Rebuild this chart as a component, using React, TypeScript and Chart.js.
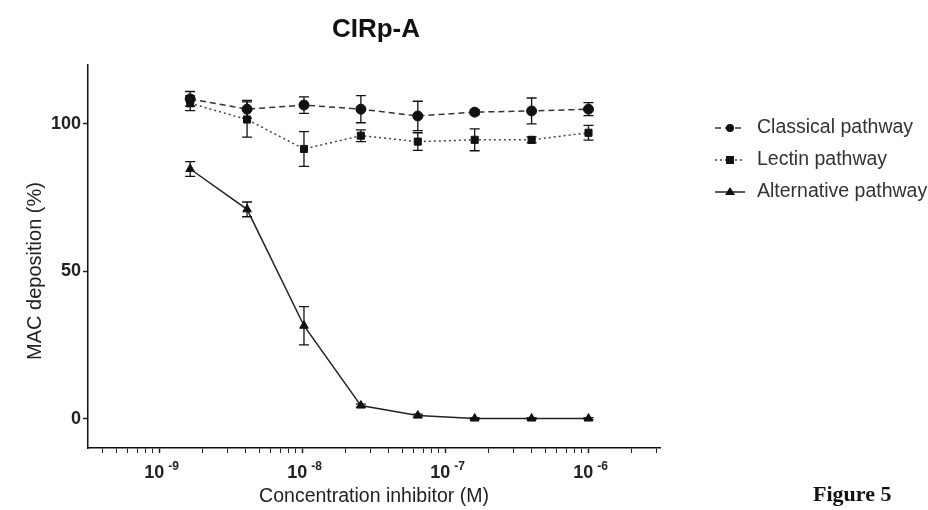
import React, { useEffect, useRef } from "react";
import { Chart, registerables } from "chart.js";
Chart.register(...registerables);

const concentrations = [1.6384e-9, 4.096e-9, 1.024e-8, 2.56e-8, 6.4e-8, 1.6e-7, 4e-7, 1e-6];
const classical = [108.5, 105, 106.4, 105, 102.7, 104, 104.4, 105];
const classicalErr = [2.5, 3, 2.8, 4.6, 5, 0.8, 4.4, 2.2];
const lectin = [107, 101.5, 91.5, 96, 94, 94.6, 94.6, 97];
const lectinErr = [2.5, 6, 5.9, 2, 3, 3.7, 1, 2.5];
const alternative = [84.7, 71, 31.5, 4.4, 1, 0, 0, 0];
const alternativeErr = [2.5, 2.5, 6.5, 0.5, 0.5, 0.3, 0.3, 0.3];

const seriesNames = ["Classical pathway", "Lectin pathway", "Alternative pathway"];
const decadeExponents = [-9, -8, -7, -6];
const yTicks = [0, 50, 100];
const titleText = "CIRp-A";
const xTitle = "Concentration inhibitor (M)";
const yTitle = "MAC deposition (%)";
const figureLabel = "Figure 5";

const FONT = "'Liberation Sans', Arial, sans-serif";

export default function App() {
  const ref = useRef<HTMLCanvasElement>(null);
  useEffect(() => {
    const canvas = ref.current!;
    const errs = [classicalErr, lectinErr, alternativeErr];
    const styles = [
      { dash: [6, 4], point: "circle", radius: 5, color: "#333" },
      { dash: [2, 3], point: "rect", radius: 5, color: "#444" },
      { dash: [], point: "triangle", radius: 5, color: "#222" },
    ];
    const vals = [classical, lectin, alternative];

    const plugin = {
      id: "custom",
      beforeDatasetsDraw(chart: any) {
        const ctx = chart.ctx;
        const ys = chart.scales.y;
        const xs = chart.scales.x;
        ctx.save();
        ctx.strokeStyle = "#111";
        ctx.lineWidth = 1.3;
        vals.forEach((arr, si) => {
          arr.forEach((v, i) => {
            const e = errs[si][i];
            const px = xs.getPixelForValue(concentrations[i]);
            const top = ys.getPixelForValue(v + e);
            const bot = ys.getPixelForValue(v - e);
            ctx.beginPath();
            ctx.moveTo(px, top);
            ctx.lineTo(px, bot);
            ctx.moveTo(px - 5, top);
            ctx.lineTo(px + 5, top);
            ctx.moveTo(px - 5, bot);
            ctx.lineTo(px + 5, bot);
            ctx.stroke();
          });
        });
        ctx.restore();
      },
      afterDraw(chart: any) {
        const ctx = chart.ctx;
        const xs = chart.scales.x;
        ctx.save();
        // x decade labels
        ctx.fillStyle = "#222";
        ctx.textBaseline = "alphabetic";
        decadeExponents.forEach((ex) => {
          const px = xs.getPixelForValue(Math.pow(10, ex));
          ctx.font = `bold 18px ${FONT}`;
          const base = "10";
          const sup = "-" + String(-ex);
          const wb = ctx.measureText(base).width;
          ctx.font = `bold 12px ${FONT}`;
          const ws = ctx.measureText(sup).width;
          const total = wb + 4 + ws;
          const x0 = px + 2 - total / 2;
          ctx.font = `bold 18px ${FONT}`;
          ctx.textAlign = "left";
          ctx.fillText(base, x0, 478);
          ctx.font = `bold 12px ${FONT}`;
          ctx.fillText(sup, x0 + wb + 4, 470);
        });
        // y title
        ctx.save();
        ctx.translate(35, 271);
        ctx.rotate(-Math.PI / 2);
        ctx.font = `20px ${FONT}`;
        ctx.textAlign = "center";
        ctx.textBaseline = "middle";
        ctx.fillStyle = "#222";
        ctx.fillText(yTitle, 0, 0);
        ctx.restore();
        // title
        ctx.font = `bold 26px ${FONT}`;
        ctx.textAlign = "center";
        ctx.textBaseline = "middle";
        ctx.fillStyle = "#111";
        ctx.fillText(titleText, 376, 30);
        // legend
        seriesNames.forEach((name, i) => {
          const y = 128 + i * 32;
          const st = styles[i];
          ctx.strokeStyle = st.color;
          ctx.lineWidth = 1.5;
          ctx.setLineDash(st.dash);
          ctx.beginPath();
          ctx.moveTo(715, y);
          ctx.lineTo(745, y);
          ctx.stroke();
          ctx.setLineDash([]);
          ctx.fillStyle = "#111";
          ctx.beginPath();
          if (st.point === "circle") {
            ctx.arc(730, y, 4, 0, Math.PI * 2);
          } else if (st.point === "rect") {
            ctx.rect(726, y - 4, 8, 8);
          } else {
            ctx.moveTo(730, y - 5);
            ctx.lineTo(735, y + 3);
            ctx.lineTo(725, y + 3);
            ctx.closePath();
          }
          ctx.fill();
          ctx.font = `19.5px ${FONT}`;
          ctx.textAlign = "left";
          ctx.textBaseline = "middle";
          ctx.fillStyle = "#333";
          ctx.fillText(name, 757, y);
        });
        // figure label
        ctx.font = "bold 22px 'Liberation Serif', 'Times New Roman', serif";
        ctx.textAlign = "left";
        ctx.textBaseline = "middle";
        ctx.fillStyle = "#111";
        ctx.fillText(figureLabel, 813, 495);
        ctx.restore();
      },
    };

    const datasets = vals.map((arr, si) => ({
      label: seriesNames[si],
      data: arr.map((v, i) => ({ x: concentrations[i], y: v })),
      borderColor: styles[si].color,
      borderWidth: 1.5,
      borderDash: styles[si].dash,
      pointStyle: styles[si].point,
      pointRadius: styles[si].radius,
      pointBackgroundColor: "#111",
      pointBorderColor: "#111",
      pointBorderWidth: 1,
      tension: 0,
      fill: false,
    }));

    const chart = new Chart(canvas, {
      type: "line",
      data: { datasets },
      plugins: [plugin],
      options: {
        responsive: false,
        animation: false,
        devicePixelRatio: 1,
        layout: { padding: { top: 65, right: 268, left: 0, bottom: 0 } },
        plugins: {
          legend: { display: false },
          title: { display: false },
          tooltip: { enabled: false },
        },
        scales: {
          x: {
            type: "logarithmic",
            min: Math.pow(10, -9.5),
            max: Math.pow(10, -5.5),
            afterBuildTicks: (scale: any) => {
              const t: any[] = [];
              for (let e = -10; e <= -6; e++) {
                for (let m = 1; m <= 9; m++) {
                  const v = m * Math.pow(10, e);
                  if (v >= scale.min && v <= scale.max) t.push({ value: v, major: m === 1 });
                }
              }
              scale.ticks = t;
            },
            afterFit: (scale: any) => {
              scale.height = 62;
            },
            ticks: {
              display: true,
              autoSkip: false,
              maxRotation: 0,
              callback: () => "",
            },
            grid: {
              display: true,
              drawOnChartArea: false,
              drawTicks: true,
              tickLength: 5,
              tickColor: "#222",
              tickWidth: (c: any) => (c.tick && c.tick.major ? 1.5 : 1),
            },
            border: { display: true, color: "#111", width: 1.5 },
            title: {
              display: true,
              text: xTitle,
              color: "#222",
              font: { family: FONT, size: 19.5 },
              padding: { top: 0, bottom: 2 },
            },
          },
          y: {
            type: "linear",
            min: -10,
            max: 120,
            afterBuildTicks: (scale: any) => {
              scale.ticks = yTicks.map((v) => ({ value: v }));
            },
            afterFit: (scale: any) => {
              scale.width = 88;
            },
            ticks: {
              color: "#222",
              font: { family: FONT, size: 18, weight: "bold" },
              padding: 2,
            },
            grid: {
              display: true,
              drawOnChartArea: false,
              drawTicks: true,
              tickLength: 5,
              tickColor: "#222",
              tickWidth: 1.5,
            },
            border: { display: true, color: "#111", width: 1.5 },
            title: { display: false },
          },
        },
      },
    } as any);
    return () => chart.destroy();
  }, []);

  return (
    <div style={{ position: "fixed", left: 0, top: 0, width: 928, height: 510, background: "#fff" }}>
      <canvas ref={ref} width={928} height={510} style={{ display: "block", width: 928, height: 510 }} />
    </div>
  );
}
